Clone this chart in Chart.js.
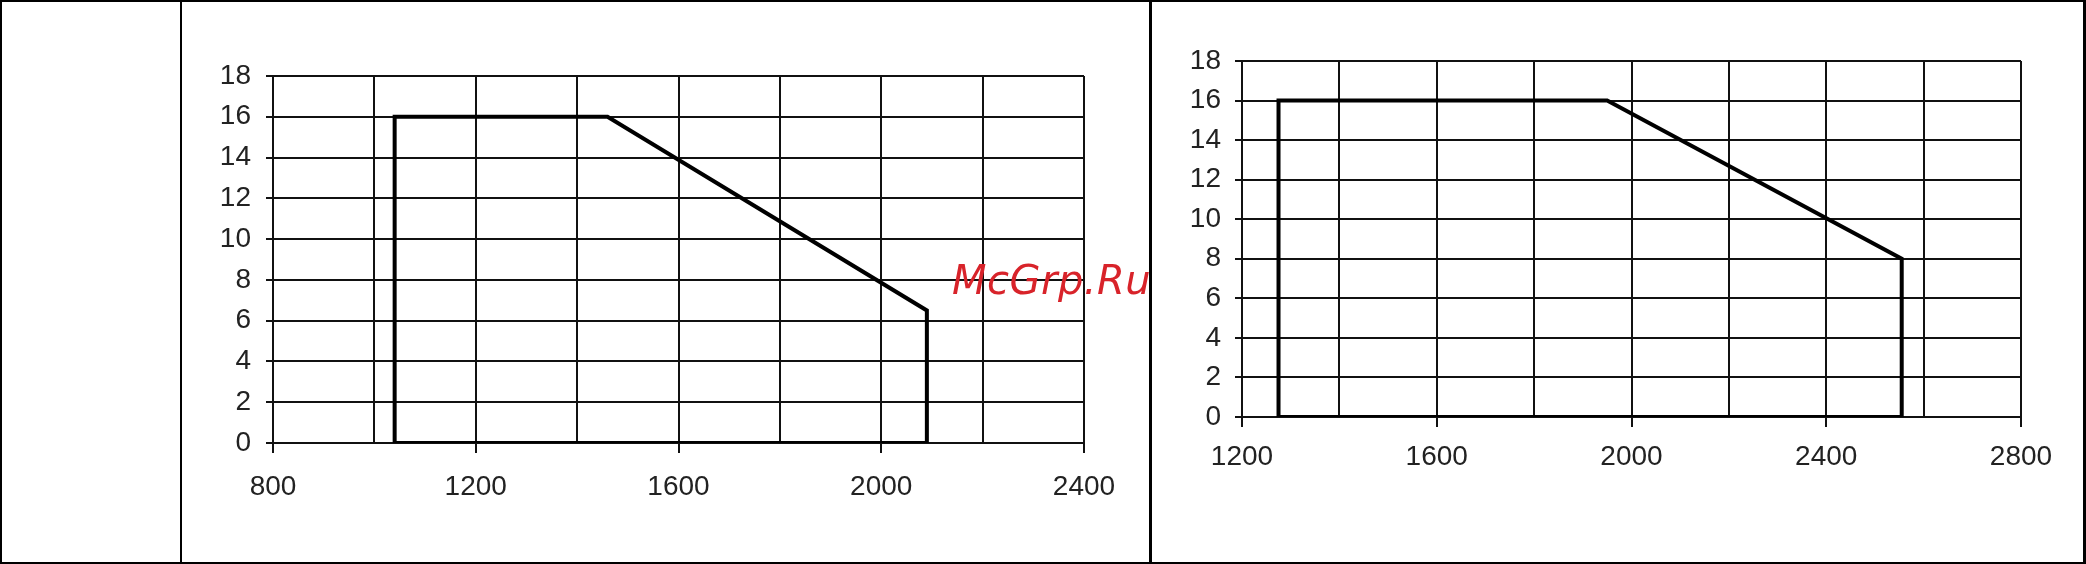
<!DOCTYPE html>
<html>
<head>
<meta charset="utf-8">
<script src="https://cdn.jsdelivr.net/npm/chart.js@4.4.1/dist/chart.umd.min.js"></script>
<style>
  html, body { margin: 0; padding: 0; background: #fff; }
  body { width: 2086px; height: 564px; position: relative; overflow: hidden; }
  .rule { position: absolute; background: #000; }
  canvas { position: absolute; top: 0; }
  .mark {
    position: absolute; left: 952px; top: 257px;
    font: oblique 40px "DejaVu Sans", sans-serif; color: #d8232a;
    letter-spacing: 0.5px; white-space: nowrap; z-index: 5;
  }
</style>
</head>
<body>
<div class="rule" style="left:0;top:0;width:2086px;height:2px"></div>
<div class="rule" style="left:0;top:562px;width:2086px;height:2px"></div>
<div class="rule" style="left:0;top:0;width:2px;height:564px"></div>
<div class="rule" style="left:180px;top:0;width:2px;height:564px"></div>
<div class="rule" style="left:1149px;top:0;width:3px;height:564px"></div>
<div class="rule" style="left:2083px;top:0;width:3px;height:564px"></div>

<canvas id="leftChart" width="966" height="564" style="left:182px"></canvas>
<canvas id="rightChart" width="930" height="564" style="left:1153px"></canvas>
<div class="mark">McGrp.Ru</div>

<script>
// y axis is the same for both panels
const yMin = 0;
const yMax = 18;
const yStep = 2;
const xStep = 200;
const xLabelStep = 400;

// left panel: outline of the working envelope
const leftRange = [800, 2400];
const leftX = [1040, 1040, 1460, 2090, 2090, 1040];
const leftY = [0, 16, 16, 6.5, 0, 0];

// right panel
const rightRange = [1200, 2800];
const rightX = [1275, 1275, 1950, 2555, 2555, 1275];
const rightY = [0, 16, 16, 8, 0, 0];

const ink = '#111';
const tickFont = { family: 'Liberation Sans', size: 28 };

function makeChart(id, xs, ys, range, box) {
    const ctx = document.getElementById(id).getContext('2d');
    const points = xs.map((x, i) => ({ x: x, y: ys[i] }));
    return new Chart(ctx, {
        type: 'scatter',
        data: {
            datasets: [{
                data: points,
                showLine: true,
                borderColor: '#000',
                borderWidth: 4,
                pointRadius: 0,
                tension: 0,
            }]
        },
        options: {
            responsive: false,
            animation: false,
            devicePixelRatio: 1,
            layout: { padding: { left: 0, right: box.right, top: box.top, bottom: 0 } },
            plugins: { legend: { display: false }, tooltip: { enabled: false } },
            scales: {
                x: {
                    type: 'linear',
                    min: range[0],
                    max: range[1],
                    afterFit: (axis) => { axis.height = box.xHeight; },
                    grid: {
                        color: ink,
                        lineWidth: 2,
                        tickLength: 10,
                        // tick marks only under the labelled values
                        tickColor: (c) => (c.tick && c.tick.value % xLabelStep === 0) ? ink : 'rgba(0,0,0,0)',
                    },
                    border: { color: ink, width: 2 },
                    ticks: {
                        stepSize: xStep,
                        autoSkip: false,
                        maxRotation: 0,
                        padding: box.xPad,
                        color: '#222',
                        font: tickFont,
                        callback: (v) => v % xLabelStep === 0 ? String(v) : '',
                    }
                },
                y: {
                    min: yMin,
                    max: yMax,
                    afterFit: (axis) => { axis.width = box.yWidth; },
                    grid: { color: ink, lineWidth: 2, tickLength: 7, tickColor: ink },
                    border: { color: ink, width: 2 },
                    ticks: {
                        stepSize: yStep,
                        padding: box.yPad,
                        color: '#222',
                        font: tickFont,
                    }
                }
            }
        }
    });
}

makeChart('leftChart', leftX, leftY, leftRange,
    { yWidth: 91, right: 64, top: 76, xHeight: 121, yPad: 15, xPad: 17 });
makeChart('rightChart', rightX, rightY, rightRange,
    { yWidth: 89, right: 62, top: 61, xHeight: 147, yPad: 14, xPad: 13 });
</script>
</body>
</html>
